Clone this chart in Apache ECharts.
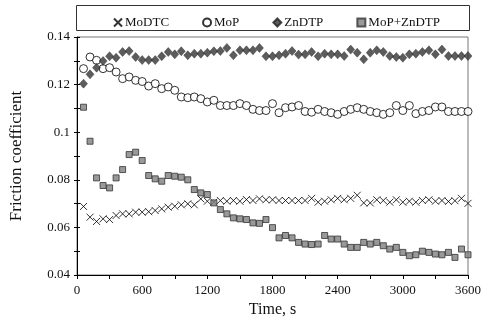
<!DOCTYPE html>
<html><head><meta charset="utf-8">
<script src="https://cdn.jsdelivr.net/npm/echarts@6/dist/echarts.min.js"></script>
<style>html,body{margin:0;padding:0;background:#fff}#c{width:484px;height:327px}</style>
</head><body><div id="c"></div>
<script>
const time = [60,120,180,240,300,360,420,480,540,600,660,720,780,840,900,960,1020,1080,1140,1200,1260,1320,1380,1440,1500,1560,1620,1680,1740,1800,1860,1920,1980,2040,2100,2160,2220,2280,2340,2400,2460,2520,2580,2640,2700,2760,2820,2880,2940,3000,3060,3120,3180,3240,3300,3360,3420,3480,3540,3600];
const MoDTC = [0.0688,0.0643,0.0625,0.0636,0.0633,0.0650,0.0657,0.0657,0.0664,0.0664,0.0666,0.0671,0.0678,0.0685,0.0689,0.0695,0.0699,0.0695,0.0720,0.0710,0.0706,0.0713,0.0710,0.0713,0.0710,0.0717,0.0713,0.0720,0.0716,0.0716,0.0713,0.0713,0.0713,0.0713,0.0713,0.0722,0.0706,0.0710,0.0716,0.0722,0.0716,0.0722,0.0735,0.0703,0.0703,0.0716,0.0713,0.0706,0.0716,0.0706,0.0710,0.0706,0.0713,0.0716,0.0710,0.0713,0.0709,0.0712,0.0722,0.0701];
const MoP = [0.1267,0.1316,0.1302,0.1267,0.1271,0.1253,0.1225,0.1232,0.1218,0.1213,0.1194,0.1204,0.1183,0.1190,0.1176,0.1148,0.1145,0.1148,0.1141,0.1127,0.1134,0.1112,0.1112,0.1112,0.1120,0.1112,0.1096,0.1091,0.1091,0.1120,0.1082,0.1103,0.1106,0.1112,0.1087,0.1084,0.1096,0.1087,0.1082,0.1075,0.1087,0.1096,0.1103,0.1096,0.1087,0.1082,0.1075,0.1082,0.1112,0.1091,0.1112,0.1078,0.1087,0.1091,0.1106,0.1106,0.1087,0.1087,0.1087,0.1087];
const ZnDTP = [0.1204,0.1243,0.1271,0.1299,0.1319,0.1313,0.1337,0.1341,0.1316,0.1303,0.1303,0.1303,0.1319,0.1337,0.1327,0.1340,0.1323,0.1330,0.1330,0.1334,0.1340,0.1341,0.1354,0.1323,0.1344,0.1344,0.1344,0.1354,0.1319,0.1319,0.1323,0.1330,0.1341,0.1326,0.1327,0.1337,0.1319,0.1330,0.1327,0.1327,0.1320,0.1347,0.1334,0.1306,0.1334,0.1344,0.1337,0.1320,0.1316,0.1313,0.1327,0.1330,0.1337,0.1344,0.1327,0.1347,0.1320,0.1320,0.1320,0.1320];
const MoPZnDTP = [0.1105,0.0962,0.0808,0.0776,0.0766,0.0808,0.0843,0.0906,0.0916,0.0881,0.0818,0.0804,0.0794,0.0818,0.0815,0.0811,0.0800,0.0759,0.0745,0.0738,0.0703,0.0675,0.0657,0.0640,0.0636,0.0633,0.0619,0.0617,0.0633,0.0599,0.0556,0.0566,0.0556,0.0537,0.0530,0.0528,0.0530,0.0566,0.0551,0.0551,0.0530,0.0516,0.0516,0.0537,0.0530,0.0537,0.0523,0.0509,0.0516,0.0495,0.0481,0.0485,0.0500,0.0495,0.0488,0.0485,0.0495,0.0474,0.0509,0.0485];
const seriesNames = ['MoDTC','MoP','ZnDTP','MoP+ZnDTP'];
const xTicks = ['0','600','1200','1800','2400','3000','3600'];
const yTicks = ['0.04','0.06','0.08','0.1','0.12','0.14'];

const pair = arr => arr.map((v,i)=>[time[i], v]);
const font = 'Liberation Serif';
const chart = echarts.init(document.getElementById('c'), null, {renderer:'canvas'});
const xPath = 'path://M0,0L10,10M10,0L0,10';
const yBase = {
  type:'value', min:0.04, max:0.14, interval:0.02, position:'left', offset:0,
  splitLine:{show:false}
};
chart.setOption({
  animation:false,
  backgroundColor:'#fff',
  graphic:[{type:'rect', shape:{x:76.5,y:5.5,width:393,height:25}, style:{fill:'none', stroke:'#333', lineWidth:1}, z:0}],
  legend:{
    left:108, top:11, itemWidth:8, itemHeight:8, itemGap:33,
    textStyle:{fontFamily:font, fontSize:13, color:'#111', padding:[0,0,0,-2]},
    data:seriesNames
  },
  grid:{left:77, right:15, top:37, bottom:52, show:true, borderColor:'#777', borderWidth:1},
  xAxis:{
    type:'value', min:0, max:3600, interval:600,
    name:'Time, s', nameLocation:'middle', nameGap:25,
    nameTextStyle:{fontFamily:font, fontSize:16, color:'#111'},
    axisLine:{lineStyle:{color:'#000', width:1}},
    axisTick:{show:true, inside:false, length:4, lineStyle:{color:'#000'}},
    minorTick:{show:true, splitNumber:2, length:4, lineStyle:{color:'#000'}},
    splitLine:{show:false},
    axisLabel:{fontFamily:font, fontSize:13, color:'#111', margin:9, formatter:(v)=>{const i=Math.round(v/600);return xTicks[i]!==undefined?xTicks[i]:'';}}
  },
  yAxis:[Object.assign({}, yBase, {
    name:'Friction coefficient', nameLocation:'middle', nameGap:52,
    nameTextStyle:{fontFamily:font, fontSize:17, color:'#111'},
    axisLine:{show:true, lineStyle:{color:'#000', width:1}},
    axisTick:{show:true, inside:false, length:3, lineStyle:{color:'#000'}},
    minorTick:{show:true, splitNumber:2, length:3, lineStyle:{color:'#000'}},
    axisLabel:{fontFamily:font, fontSize:13, color:'#111', margin:7, formatter:(v)=>{const i=Math.round((v-0.04)/0.02);return yTicks[i]!==undefined?yTicks[i]:'';}}
  }), Object.assign({}, yBase, {
    axisLine:{show:false},
    axisTick:{show:true, inside:true, length:3, lineStyle:{color:'#000'}},
    minorTick:{show:true, splitNumber:2, length:3, lineStyle:{color:'#000'}},
    axisLabel:{show:false}
  })],
  series:[
    {name:'MoDTC', type:'scatter', data:pair(MoDTC), symbol:xPath, symbolSize:7,
     itemStyle:{color:'transparent', borderColor:'#000', borderWidth:1}},
    {name:'MoP', type:'scatter', data:pair(MoP), symbol:'circle', symbolSize:8,
     itemStyle:{color:'#fff', borderColor:'#000', borderWidth:1}},
    {name:'ZnDTP', type:'scatter', data:pair(ZnDTP), symbol:'diamond', symbolSize:[8,9],
     itemStyle:{color:'#333', borderColor:'#222', borderWidth:0.5}},
    {name:'MoP+ZnDTP', type:'scatter', data:pair(MoPZnDTP), symbol:'rect', symbolSize:6,
     itemStyle:{color:'#808080', borderColor:'#333', borderWidth:1}}
  ]
});
</script></body></html>
